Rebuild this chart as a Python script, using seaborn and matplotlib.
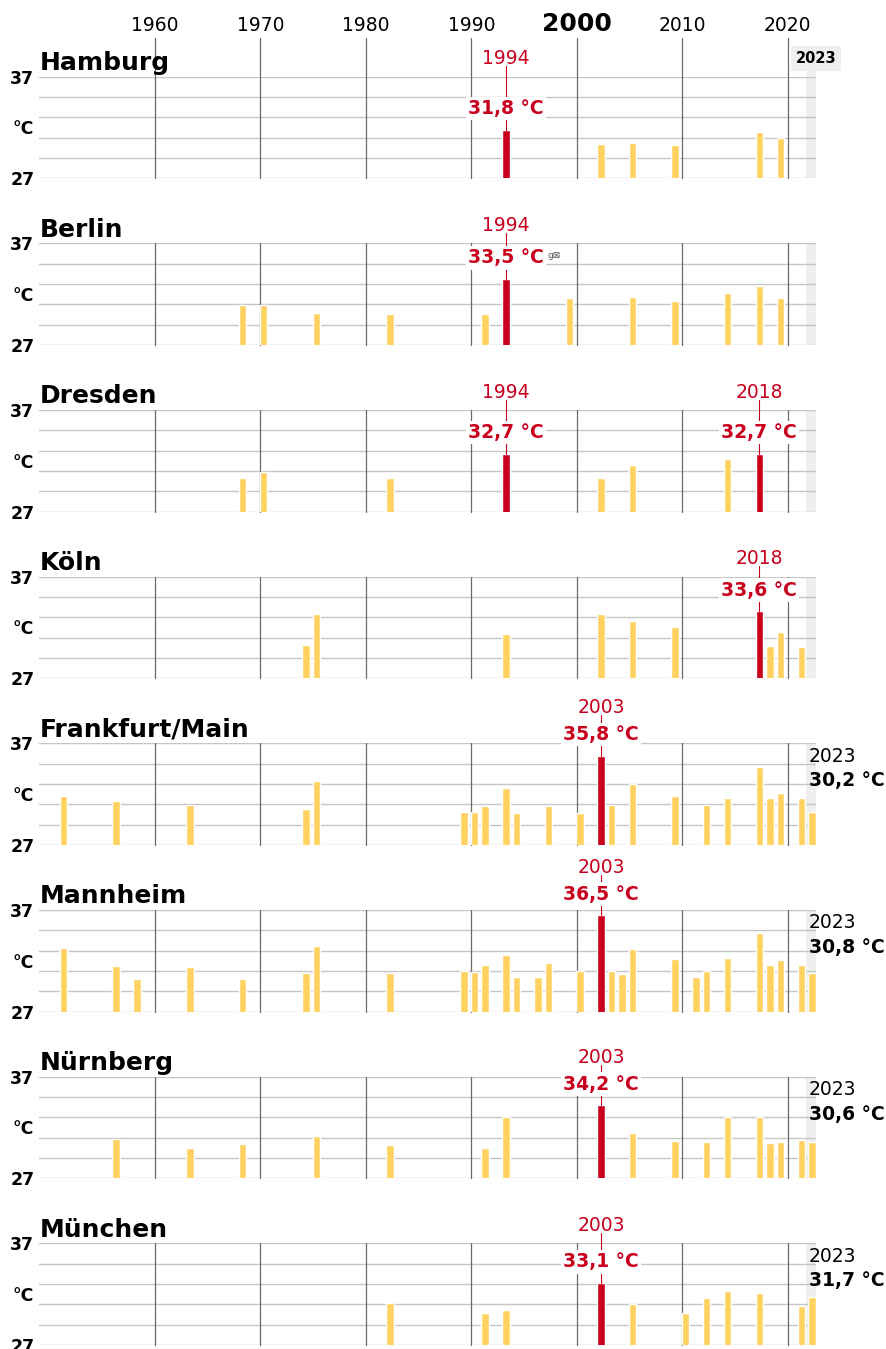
import numpy as np
import pandas as pd
import matplotlib
matplotlib.use("Agg")
import matplotlib.pyplot as plt
import seaborn as sns

# Data: yearly values above the threshold, per city
cities = ["Hamburg", "Berlin", "Dresden", "Köln", "Frankfurt/Main",
          "Mannheim", "Nürnberg", "München"]

hamburg_years = [1994, 2003, 2006, 2010, 2018, 2020]
hamburg_temps = [31.8, 30.4, 30.5, 30.3, 31.6, 31.0]

berlin_years = [1969, 1971, 1976, 1983, 1992, 1994, 2000, 2006, 2010, 2015, 2018, 2020]
berlin_temps = [30.9, 30.9, 30.1, 30.0, 30.0, 33.5, 31.6, 31.7, 31.3, 32.1, 32.8, 31.6]

dresden_years = [1969, 1971, 1983, 1994, 2003, 2006, 2015, 2018]
dresden_temps = [30.3, 30.9, 30.3, 32.7, 30.3, 31.6, 32.2, 32.7]

koeln_years = [1975, 1976, 1994, 2003, 2006, 2010, 2018, 2019, 2020, 2022]
koeln_temps = [30.3, 33.3, 31.4, 33.3, 32.6, 32.0, 33.6, 30.2, 31.6, 30.1]

frankfurt_years = [1952, 1957, 1964, 1975, 1976, 1990, 1991, 1992, 1994, 1995, 1998, 2001,
                   2003, 2004, 2006, 2010, 2013, 2015, 2018, 2019, 2020, 2022, 2023]
frankfurt_temps = [31.8, 31.3, 30.9, 30.5, 33.3, 30.2, 30.2, 30.8, 32.6, 30.1, 30.8, 30.1,
                   35.8, 30.9, 33.0, 31.8, 30.9, 31.6, 34.7, 31.6, 32.1, 31.6, 30.2]

mannheim_years = [1952, 1957, 1959, 1964, 1969, 1975, 1976, 1983, 1990, 1991, 1992, 1994,
                  1995, 1997, 1998, 2001, 2003, 2004, 2005, 2006, 2010, 2012, 2013, 2015,
                  2018, 2019, 2020, 2022, 2023]
mannheim_temps = [33.3, 31.5, 30.2, 31.4, 30.2, 30.8, 33.5, 30.8, 31.0, 30.9, 31.6, 32.6,
                  30.4, 30.4, 31.8, 31.0, 36.5, 31.0, 30.7, 33.2, 32.2, 30.4, 31.0, 32.3,
                  34.7, 31.6, 32.1, 31.6, 30.8]

nuernberg_years = [1957, 1964, 1969, 1976, 1983, 1992, 1994, 2003, 2006, 2010, 2013, 2015,
                   2018, 2019, 2020, 2022, 2023]
nuernberg_temps = [30.9, 30.0, 30.4, 31.2, 30.3, 30.0, 33.0, 34.2, 31.5, 30.7, 30.6, 33.0,
                   33.0, 30.5, 30.6, 30.8, 30.6]

muenchen_years = [1983, 1992, 1994, 2003, 2006, 2011, 2013, 2015, 2018, 2022, 2023]
muenchen_temps = [31.1, 30.1, 30.4, 33.1, 31.0, 30.1, 31.6, 32.3, 32.1, 30.8, 31.7]

all_city_years = [hamburg_years, berlin_years, dresden_years, koeln_years,
                  frankfurt_years, mannheim_years, nuernberg_years, muenchen_years]
all_city_temps = [hamburg_temps, berlin_temps, dresden_temps, koeln_temps,
                  frankfurt_temps, mannheim_temps, nuernberg_temps, muenchen_temps]

record_years = [[1994], [1994], [1994, 2018], [2018], [2003], [2003], [2003], [2003]]
current_year = 2023
current_values = [None, None, None, None, 30.2, 30.8, 30.6, 31.7]

decades = [1960, 1970, 1980, 1990, 2000, 2010, 2020]
first_year = 1950
all_years = list(range(first_year, current_year + 1))

YELLOW = "#FFD262"
RED = "#C8001E"
GRID = "#C6C6C6"
VLINE = "#6A6A6A"
BAND = "#EFEFEF"

sns.set_theme(style="white")
plt.rcParams["font.family"] = ["DejaVu Sans"]
plt.rcParams["text.color"] = "black"
plt.rcParams["ytick.color"] = "black"
plt.rcParams["ytick.labelcolor"] = "black"

W, H = 887, 1349
fig = plt.figure(figsize=(W / 100, H / 100), dpi=100)

ax_left, ax_right = 38.5, 816
top0, step, ax_h = 76.7, 166.66, 101.6
x_lo, x_hi = -0.35, 73.38


def fmt(v):
    return f"{v:.1f}".replace(".", ",") + " °C"


for i, city in enumerate(cities):
    top = top0 + i * step
    ax = fig.add_axes([ax_left / W, 1 - (top + ax_h) / H,
                       (ax_right - ax_left) / W, ax_h / H])

    df = pd.DataFrame({"year": all_city_years[i], "temp": all_city_temps[i]})
    df["kind"] = np.where(df["year"].isin(record_years[i]), "rekord", "normal")

    # light band behind the current year
    ax.axvspan(2022.45 - first_year, x_hi, ymin=0, ymax=1.06 if i == 0 else 1,
               color=BAND, lw=0, zorder=0, clip_on=False)
    for t in range(27, 38, 2):
        ax.axhline(t, color=GRID, lw=1.0, zorder=0.5)

    sns.barplot(data=df, x="year", y="temp", order=all_years, hue="kind",
                palette={"normal": YELLOW, "rekord": RED}, dodge=False,
                width=0.7, errorbar=None, legend=False, saturation=1,
                ax=ax, zorder=2)

    for d in decades:
        ax.axvline(d - first_year + 0.7, color=VLINE, lw=0.9, zorder=1.5,
                   ymax=1.38 if i == 0 else 1, clip_on=False)

    ax.set_xlim(x_lo, x_hi)
    ax.set_ylim(27, 37)
    ax.set_xticks([])
    ax.set_xlabel("")
    ax.set_ylabel("")
    ax.set_yticks([27, 32, 37])
    ax.set_yticklabels(["27", "°C", "37"], fontweight="bold", fontsize=12.5,
                       color="black")
    ax.tick_params(axis="y", length=0, pad=3)
    for s in ax.spines.values():
        s.set_visible(False)

    ax.text(0.002, 37.65, city, transform=ax.get_yaxis_transform(),
            fontsize=18, fontweight="bold", ha="left", va="baseline")

    # top axis labels
    if i == 0:
        for d in decades:
            bold = d == 2000
            ax.text(d - first_year + 0.7, 42.2 if bold else 42.0, str(d),
                    ha="center", va="center", fontsize=18 if bold else 13.5,
                    fontweight="bold" if bold else "normal", clip_on=False)
        ax.text(x_hi, 38.77, str(current_year), ha="center", va="center",
                fontsize=10.5, fontweight="bold", clip_on=False,
                bbox=dict(boxstyle="square,pad=0.35", fc=BAND, ec="none"))

    # record annotations
    for ry in record_years[i]:
        rv = df.loc[df["year"] == ry, "temp"].iloc[0]
        bx = ry - first_year
        val_y = rv + 2.07
        year_y = max(val_y + 2.66, 38.77)
        ax.plot([bx, bx], [year_y - 0.75, rv], color=RED, lw=0.8,
                zorder=2.5, clip_on=False)
        ax.text(bx, val_y, fmt(rv), ha="center", va="center", color=RED,
                fontsize=13.5, fontweight="bold", zorder=4, clip_on=False,
                bbox=dict(boxstyle="square,pad=0.12", fc="white", ec="none"))
        ax.text(bx, year_y, str(ry), ha="center", va="center", color=RED,
                fontsize=13.5, zorder=4, clip_on=False)
        if city == "Berlin":
            ax.text(bx + 3.9, val_y + 0.25, "g⊠", ha="left", va="center",
                    fontsize=6.5, color="#555555", clip_on=False)

    # current-year value
    if current_values[i] is not None:
        ax.text(72.71, 35.75, str(current_year), ha="left", va="center",
                fontsize=13.5, clip_on=False, zorder=4)
        ax.text(72.71, 33.3, fmt(current_values[i]), ha="left", va="center",
                fontsize=13.5, fontweight="bold", clip_on=False, zorder=4)

fig.savefig("out.png", dpi=100)
